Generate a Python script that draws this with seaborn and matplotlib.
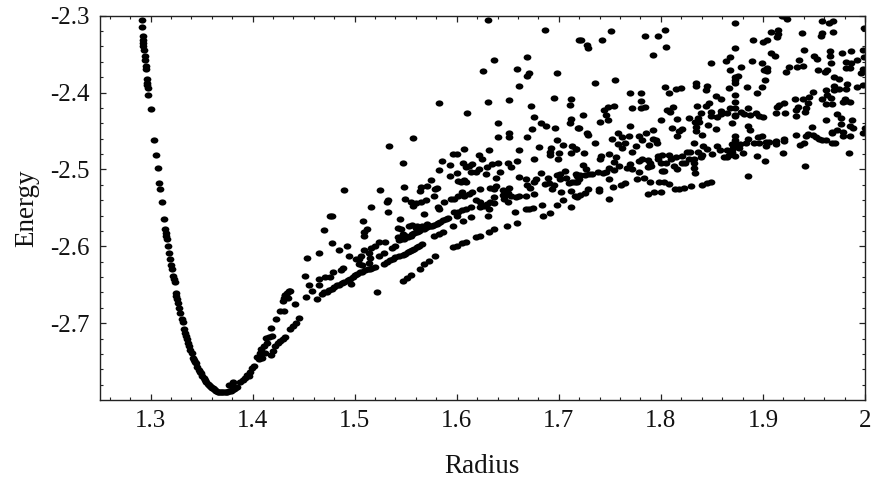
import pandas as pd
import matplotlib.pyplot as plt
import seaborn as sns
from matplotlib.markers import MarkerStyle
from matplotlib.ticker import FixedLocator, FixedFormatter
from matplotlib.transforms import Affine2D

# values, (radius, energy)
left_wall = [
    (1.2915,-2.306),(1.292,-2.315),(1.293,-2.326),(1.293,-2.331),(1.293,-2.335),(1.293,-2.339),(1.294,-2.344),
    (1.295,-2.353),(1.295,-2.358),(1.296,-2.366),(1.296,-2.369),(1.297,-2.382),(1.297,-2.387),(1.297,-2.390),
    (1.298,-2.394),(1.298,-2.403),(1.300,-2.421),(1.303,-2.462),(1.305,-2.481),(1.307,-2.498),(1.308,-2.518),
    (1.309,-2.526),(1.311,-2.543),(1.313,-2.564),(1.314,-2.578),(1.315,-2.583),(1.315,-2.586),(1.316,-2.590),
    (1.317,-2.599),(1.318,-2.609),(1.319,-2.617),(1.320,-2.624),(1.321,-2.629),(1.322,-2.639),(1.323,-2.643),
    (1.324,-2.647),(1.325,-2.661),(1.325,-2.665),(1.326,-2.669),(1.327,-2.674),(1.328,-2.680),(1.329,-2.687),
    (1.331,-2.694),(1.332,-2.698),(1.333,-2.707),(1.334,-2.713),(1.335,-2.717),(1.336,-2.721),(1.337,-2.726),
    (1.338,-2.730),(1.339,-2.735),(1.341,-2.739),(1.342,-2.745),(1.345,-2.752),(1.346,-2.757),(1.347,-2.761),
    (1.349,-2.765),(1.350,-2.769),(1.352,-2.772),(1.354,-2.776),(1.356,-2.779),(1.358,-2.782),(1.360,-2.784),
    (1.362,-2.786),(1.364,-2.788),(1.367,-2.790),(1.370,-2.790),(1.372,-2.790),(1.375,-2.790),(1.377,-2.788),
    (1.380,-2.787),(1.383,-2.785),(1.385,-2.783),(1.343,-2.748),(1.344,-2.750),(1.348,-2.763),(1.353,-2.774),
    (1.357,-2.781),(1.359,-2.783),(1.361,-2.785),(1.363,-2.787),(1.366,-2.789),(1.369,-2.790),(1.374,-2.790),
    (1.379,-2.788),(1.382,-2.786),
]
rising_arm = [
    (1.377,-2.780),(1.381,-2.777),(1.381,-2.782),(1.388,-2.777),(1.391,-2.774),(1.393,-2.771),(1.395,-2.768),
    (1.397,-2.764),(1.399,-2.759),(1.401,-2.756),(1.404,-2.744),(1.407,-2.739),(1.408,-2.734),(1.411,-2.730),
    (1.413,-2.719),(1.416,-2.718),(1.418,-2.706),(1.419,-2.717),(1.418,-2.741),(1.420,-2.736),(1.422,-2.730),
    (1.425,-2.726),(1.427,-2.723),(1.430,-2.721),(1.432,-2.718),(1.423,-2.694),(1.427,-2.684),(1.431,-2.684),
    (1.430,-2.671),(1.431,-2.667),(1.432,-2.663),(1.434,-2.661),(1.437,-2.658),(1.442,-2.675),(1.437,-2.708),
    (1.440,-2.704),(1.443,-2.700),(1.445,-2.693),(1.406,-2.747),(1.409,-2.745),(1.412,-2.739),(1.414,-2.726),
    (1.396,-2.769),
]
middle_band = [
    (1.631,-2.305),(1.686,-2.319),(1.720,-2.332),(1.669,-2.354),(1.637,-2.358),(1.626,-2.372),(1.659,-2.369),
    (1.698,-2.375),(1.671,-2.374),(1.669,-2.378),(1.661,-2.391),(1.583,-2.414),(1.631,-2.412),(1.651,-2.410),
    (1.695,-2.407),(1.712,-2.409),(1.711,-2.416),(1.673,-2.418),(1.610,-2.427),(1.676,-2.432),(1.712,-2.435),
    (1.711,-2.439),(1.683,-2.439),(1.687,-2.443),(1.640,-2.440),(1.696,-2.446),(1.719,-2.446),(1.674,-2.448),
    (1.651,-2.453),(1.651,-2.458),(1.640,-2.458),(1.669,-2.458),(1.557,-2.459),(1.698,-2.462),(1.534,-2.469),
    (1.704,-2.468),(1.713,-2.470),(1.681,-2.471),(1.692,-2.472),(1.717,-2.474),(1.607,-2.474),(1.632,-2.475),
    (1.661,-2.475),(1.712,-2.478),(1.691,-2.477),(1.691,-2.481),(1.700,-2.479),(1.596,-2.480),(1.600,-2.480),
    (1.622,-2.481),(1.699,-2.487),(1.676,-2.487),(1.625,-2.487),(1.586,-2.489),(1.547,-2.491),(1.659,-2.489),
    (1.640,-2.491),(1.650,-2.492),(1.635,-2.493),(1.606,-2.492),(1.615,-2.493),(1.593,-2.494),(1.612,-2.496),
    (1.609,-2.497),(1.653,-2.497),(1.630,-2.497),(1.583,-2.501),(1.622,-2.500),(1.619,-2.503),(1.614,-2.504),
    (1.642,-2.503),(1.600,-2.505),(1.629,-2.506),(1.706,-2.502),(1.683,-2.505),(1.698,-2.507),(1.701,-2.506),
    (1.717,-2.506),(1.593,-2.508),(1.661,-2.510),(1.638,-2.511),(1.668,-2.512),(1.707,-2.511),(1.689,-2.511),
    (1.678,-2.513),(1.676,-2.517),(1.575,-2.514),(1.601,-2.515),(1.604,-2.516),(1.607,-2.514),(1.609,-2.517),
    (1.701,-2.513),(1.713,-2.516),(1.710,-2.518),(1.718,-2.516),(1.686,-2.519),(1.690,-2.518),(1.695,-2.520),
    (1.669,-2.520),(1.672,-2.524),(1.571,-2.521),(1.565,-2.523),(1.548,-2.523),(1.638,-2.522),(1.633,-2.524),
    (1.637,-2.525),(1.623,-2.525),(1.651,-2.524),(1.581,-2.524),(1.579,-2.526),(1.490,-2.527),(1.525,-2.527),
    (1.564,-2.528),(1.645,-2.527),(1.650,-2.531),(1.653,-2.534),(1.693,-2.526),(1.702,-2.529),(1.712,-2.528),
    (1.605,-2.529),(1.615,-2.530),(1.612,-2.532),(1.676,-2.532),(1.668,-2.535),(1.661,-2.535),(1.658,-2.536),
    (1.718,-2.536),(1.578,-2.534),(1.601,-2.535),(1.597,-2.538),(1.594,-2.539),(1.607,-2.534),(1.549,-2.539),
    (1.533,-2.540),(1.532,-2.543),(1.570,-2.540),(1.565,-2.543),(1.560,-2.544),(1.555,-2.543),(1.557,-2.548),
    (1.588,-2.543),(1.619,-2.540),(1.623,-2.542),(1.637,-2.536),(1.646,-2.535),(1.646,-2.539),(1.650,-2.542),
    (1.645,-2.533),(1.633,-2.542),(1.630,-2.545),(1.637,-2.544),(1.704,-2.540),(1.698,-2.546),(1.684,-2.546),
    (1.516,-2.549),(1.582,-2.549),(1.583,-2.552),(1.712,-2.549),(1.623,-2.549),(1.632,-2.551),(1.627,-2.548),
    (1.614,-2.549),(1.609,-2.552),(1.605,-2.553),(1.601,-2.555),(1.597,-2.555),(1.675,-2.550),(1.671,-2.552),
    (1.668,-2.552),(1.533,-2.555),(1.657,-2.555),(1.691,-2.557),(1.685,-2.560),(1.568,-2.558),(1.476,-2.560),
    (1.478,-2.560),(1.631,-2.560),(1.614,-2.562),(1.600,-2.560),(1.544,-2.564),(1.591,-2.563),(1.587,-2.566),
    (1.584,-2.569),(1.581,-2.571),(1.578,-2.572),(1.574,-2.574),(1.571,-2.575),(1.568,-2.578),(1.565,-2.578),
    (1.561,-2.581),(1.558,-2.583),(1.555,-2.586),(1.552,-2.588),(1.548,-2.591),(1.543,-2.592),(1.540,-2.600),
    (1.537,-2.602),(1.606,-2.567),(1.508,-2.567),(1.659,-2.570),(1.649,-2.574),(1.637,-2.578),(1.632,-2.581),
    (1.553,-2.573),(1.556,-2.572),(1.561,-2.574),(1.566,-2.573),(1.571,-2.571),(1.542,-2.576),(1.545,-2.578),
    (1.596,-2.574),(1.512,-2.577),(1.509,-2.581),(1.509,-2.586),(1.470,-2.579),(1.587,-2.581),(1.583,-2.584),
    (1.578,-2.587),(1.623,-2.586),(1.619,-2.588),(1.609,-2.594),(1.605,-2.596),(1.600,-2.599),(1.596,-2.601),
    (1.478,-2.596),(1.492,-2.599),(1.485,-2.605),(1.524,-2.594),(1.530,-2.595),(1.520,-2.599),(1.516,-2.602),
    (1.509,-2.605),(1.566,-2.597),(1.561,-2.601),(1.556,-2.605),(1.552,-2.608),(1.547,-2.611),(1.540,-2.614),
    (1.535,-2.618),(1.529,-2.623),(1.465,-2.609),(1.494,-2.612),(1.506,-2.613),(1.501,-2.617),(1.529,-2.609),
    (1.524,-2.612),(1.514,-2.609),(1.515,-2.615),(1.453,-2.615),(1.579,-2.612),(1.573,-2.619),(1.568,-2.623),
    (1.564,-2.629),(1.504,-2.623),(1.507,-2.624),(1.489,-2.628),(1.487,-2.631),(1.479,-2.633),(1.517,-2.628),
    (1.513,-2.630),(1.507,-2.633),(1.502,-2.636),(1.498,-2.640),(1.493,-2.644),(1.488,-2.648),(1.483,-2.651),
    (1.478,-2.655),(1.473,-2.659),(1.468,-2.662),(1.451,-2.639),(1.555,-2.638),(1.551,-2.641),(1.547,-2.645),
    (1.476,-2.640),(1.471,-2.640),(1.465,-2.643),(1.455,-2.650),(1.465,-2.650),(1.496,-2.649),(1.458,-2.658),
    (1.436,-2.658),(1.432,-2.663),(1.435,-2.667),(1.522,-2.660),(1.452,-2.666),(1.463,-2.668),(1.542,-2.588),
    (1.547,-2.584),(1.560,-2.576),(1.504,-2.617),(1.514,-2.622),
]
chain_points = [
    (1.470,-2.660),(1.475,-2.657),(1.480,-2.653),(1.485,-2.650),(1.490,-2.646),(1.495,-2.642),(1.500,-2.638),
    (1.505,-2.634),(1.510,-2.631),(1.515,-2.629),(1.520,-2.627),(1.545,-2.590),(1.550,-2.587),(1.556,-2.584),
    (1.563,-2.580),(1.569,-2.576),(1.576,-2.573),(1.582,-2.570),(1.589,-2.565),(1.532,-2.620),(1.538,-2.616),
    (1.543,-2.613),(1.549,-2.610),(1.554,-2.606),(1.558,-2.603),(1.563,-2.599),
]
right_band = [
    (1.919,-2.301),(1.924,-2.304),(1.873,-2.309),(1.958,-2.307),(1.965,-2.309),(1.969,-2.307),(1.999,-2.316),
    (1.751,-2.320),(1.804,-2.319),(1.797,-2.326),(1.784,-2.327),(1.908,-2.321),(1.915,-2.319),(1.915,-2.324),
    (1.914,-2.328),(1.938,-2.322),(1.958,-2.323),(1.957,-2.327),(1.969,-2.321),(1.722,-2.332),(1.742,-2.332),
    (1.890,-2.331),(1.904,-2.332),(1.900,-2.334),(1.728,-2.338),(1.729,-2.342),(1.805,-2.341),(1.873,-2.342),
    (1.940,-2.345),(1.792,-2.351),(1.966,-2.346),(1.966,-2.352),(1.977,-2.348),(1.986,-2.346),(1.998,-2.345),
    (1.908,-2.349),(1.912,-2.353),(1.950,-2.352),(1.953,-2.356),(1.868,-2.354),(1.864,-2.359),(1.935,-2.357),
    (1.999,-2.354),(1.889,-2.359),(1.899,-2.361),(1.849,-2.362),(1.967,-2.361),(1.981,-2.360),(1.986,-2.362),
    (1.992,-2.358),(1.926,-2.367),(1.933,-2.367),(1.939,-2.366),(1.879,-2.367),(1.981,-2.368),(1.985,-2.368),
    (1.868,-2.370),(1.904,-2.368),(1.901,-2.371),(1.904,-2.372),(1.923,-2.373),(1.954,-2.371),(1.963,-2.371),
    (1.961,-2.373),(1.998,-2.369),(1.996,-2.374),(1.876,-2.378),(1.873,-2.380),(1.873,-2.384),(1.873,-2.388),
    (1.970,-2.380),(1.975,-2.382),(1.755,-2.384),(1.902,-2.384),(1.735,-2.388),(1.834,-2.388),(1.834,-2.392),
    (1.982,-2.389),(1.998,-2.390),(1.992,-2.393),(1.804,-2.393),(1.845,-2.391),(1.844,-2.397),(1.884,-2.393),
    (1.899,-2.393),(1.820,-2.394),(1.815,-2.396),(1.867,-2.394),(1.970,-2.392),(1.975,-2.395),(1.981,-2.395),
    (1.970,-2.397),(1.962,-2.397),(1.949,-2.399),(1.770,-2.400),(1.781,-2.400),(1.808,-2.401),(1.894,-2.401),
    (1.873,-2.403),(1.854,-2.405),(1.859,-2.408),(1.963,-2.403),(1.967,-2.407),(1.945,-2.406),(1.939,-2.409),
    (1.931,-2.408),(1.958,-2.408),(1.980,-2.408),(1.981,-2.411),(1.985,-2.412),(1.978,-2.412),(1.781,-2.411),
    (1.873,-2.412),(1.921,-2.413),(1.916,-2.416),(1.914,-2.419),(1.944,-2.413),(1.847,-2.414),(1.844,-2.417),
    (1.754,-2.417),(1.748,-2.419),(1.744,-2.423),(1.962,-2.415),(1.968,-2.415),(1.835,-2.417),(1.784,-2.419),
    (1.781,-2.420),(1.772,-2.420),(1.934,-2.419),(1.932,-2.423),(1.942,-2.420),(1.941,-2.425),(1.812,-2.419),
    (1.806,-2.423),(1.809,-2.425),(1.868,-2.420),(1.873,-2.420),(1.865,-2.426),(1.885,-2.420),(1.859,-2.424),
    (1.849,-2.425),(1.839,-2.426),(1.879,-2.425),(1.881,-2.428),(1.913,-2.426),(1.922,-2.427),(1.849,-2.430),
    (1.855,-2.432),(1.859,-2.428),(1.724,-2.429),(1.746,-2.429),(1.873,-2.429),(1.873,-2.431),(1.887,-2.429),
    (1.893,-2.427),(1.896,-2.431),(1.900,-2.432),(1.932,-2.431),(1.973,-2.428),(1.976,-2.433),(1.828,-2.433),
    (1.836,-2.433),(1.833,-2.438),(1.837,-2.438),(1.748,-2.436),(1.740,-2.438),(1.816,-2.434),(1.800,-2.436),
    (1.962,-2.436),(1.987,-2.436),(1.870,-2.440),(1.976,-2.441),(1.846,-2.442),(1.885,-2.443),(1.948,-2.445),
    (1.985,-2.444),(1.988,-2.446),(1.770,-2.444),(1.720,-2.446),(1.811,-2.446),(1.821,-2.447),(1.818,-2.450),
    (1.834,-2.445),(1.834,-2.450),(1.854,-2.448),(1.887,-2.449),(1.792,-2.449),(1.785,-2.452),(1.968,-2.451),
    (1.973,-2.449),(1.978,-2.451),(1.968,-2.453),(2.000,-2.446),(1.998,-2.453),(1.728,-2.452),(1.729,-2.455),
    (1.758,-2.452),(1.932,-2.455),(1.944,-2.454),(1.942,-2.457),(1.949,-2.455),(1.952,-2.458),(1.955,-2.461),
    (1.958,-2.462),(1.962,-2.462),(1.985,-2.456),(1.978,-2.456),(1.769,-2.456),(1.762,-2.458),(1.752,-2.460),
    (1.779,-2.456),(1.782,-2.462),(1.816,-2.456),(1.840,-2.455),(1.899,-2.456),(1.895,-2.458),(1.873,-2.457),
    (1.873,-2.462),(1.885,-2.461),(1.921,-2.461),(1.921,-2.463),(1.792,-2.461),(1.796,-2.465),(1.795,-2.462),
    (1.735,-2.465),(1.758,-2.467),(1.765,-2.466),(1.762,-2.472),(1.788,-2.468),(1.776,-2.469),(1.832,-2.466),
    (1.971,-2.466),(1.968,-2.466),(1.940,-2.466),(1.936,-2.468),(1.891,-2.465),(1.896,-2.466),(1.903,-2.464),
    (1.906,-2.464),(1.903,-2.469),(1.913,-2.463),(1.913,-2.467),(1.870,-2.467),(1.873,-2.468),(1.878,-2.467),
    (1.883,-2.465),(1.871,-2.472),(1.877,-2.472),(1.841,-2.469),(1.845,-2.473),(1.855,-2.469),(1.858,-2.475),
    (1.717,-2.474),(1.725,-2.478),(1.772,-2.477),(1.749,-2.480),(1.741,-2.482),(1.740,-2.487),(1.756,-2.484),
    (1.920,-2.478),(1.984,-2.478),(1.826,-2.477),(1.829,-2.477),(1.836,-2.477),(1.840,-2.481),(1.850,-2.480),
    (1.865,-2.475),(1.870,-2.477),(1.867,-2.481),(1.862,-2.484),(1.865,-2.484),(1.873,-2.482),(1.880,-2.478),
    (1.894,-2.483),(1.902,-2.489),(1.797,-2.482),(1.801,-2.481),(1.808,-2.481),(1.797,-2.487),(1.821,-2.482),
    (1.815,-2.484),(1.810,-2.487),(1.828,-2.487),(1.782,-2.487),(1.779,-2.489),(1.787,-2.488),(1.789,-2.492),
    (1.832,-2.487),(1.839,-2.484),(1.832,-2.492),(1.754,-2.490),(1.759,-2.495),(1.724,-2.494),(1.941,-2.495),
    (1.770,-2.493),(1.767,-2.498),(1.772,-2.500),(1.779,-2.503),(1.800,-2.492),(1.805,-2.492),(1.790,-2.496),
    (1.787,-2.497),(1.821,-2.491),(1.813,-2.496),(1.816,-2.500),(1.824,-2.491),(1.832,-2.498),(1.803,-2.502),
    (1.801,-2.502),(1.749,-2.498),(1.754,-2.501),(1.746,-2.504),(1.727,-2.500),(1.738,-2.504),(1.743,-2.505),
    (1.733,-2.506),(1.726,-2.507),(1.721,-2.507),(1.718,-2.509),(1.730,-2.506),(1.833,-2.505),(1.885,-2.508),
    (1.716,-2.516),(1.749,-2.512),(1.720,-2.513),(1.783,-2.511),(1.777,-2.513),(1.789,-2.517),(1.765,-2.518),
    (1.761,-2.520),(1.753,-2.523),(1.798,-2.517),(1.803,-2.517),(1.808,-2.519),(1.849,-2.517),(1.845,-2.518),
    (1.840,-2.520),(1.830,-2.522),(1.823,-2.524),(1.818,-2.525),(1.814,-2.526),(1.729,-2.526),(1.739,-2.526),
    (1.739,-2.528),(1.800,-2.529),(1.793,-2.530),(1.787,-2.532),(1.726,-2.531),(1.721,-2.533),(1.716,-2.535),
    (1.749,-2.538),
]

x_ticks = [1.3, 1.4, 1.5, 1.6, 1.7, 1.8, 1.9, 2.0]
x_labels = ['1.3', '1.4', '1.5', '1.6', '1.7', '1.8', '1.9', '2']
y_ticks = [-2.3, -2.4, -2.5, -2.6, -2.7]
y_labels = ['-2.3', '-2.4', '-2.5', '-2.6', '-2.7']
x_minor = [1.26, 1.28, 1.32, 1.34, 1.36, 1.38, 1.42, 1.44, 1.46, 1.48, 1.52, 1.54, 1.56, 1.58,
           1.62, 1.64, 1.66, 1.68, 1.72, 1.74, 1.76, 1.78, 1.82, 1.84, 1.86, 1.88, 1.92, 1.94, 1.96, 1.98]
y_minor = [-2.32, -2.34, -2.36, -2.38, -2.42, -2.44, -2.46, -2.48, -2.52, -2.54, -2.56, -2.58,
           -2.62, -2.64, -2.66, -2.68, -2.72, -2.74, -2.76, -2.78]

sns.set_theme(style='white')
plt.rcParams['font.family'] = ['Liberation Serif', 'DejaVu Serif']

df = pd.DataFrame(left_wall + rising_arm + middle_band + chain_points + right_band, columns=['Radius', 'Energy'])

fig = plt.figure(figsize=(8.75, 4.84), dpi=100)
ax = fig.add_axes([99.5 / 875, 1 - 400 / 484, (865 - 99.5) / 875, (400 - 15.7) / 484])

dot = MarkerStyle('o', transform=Affine2D().scale(1.25, 1))
sns.scatterplot(data=df, x='Radius', y='Energy', color='black', s=20, marker=dot, linewidth=0, ax=ax)

ax.set_xlim(1.25, 2)
ax.set_ylim(-2.8, -2.3)
ax.xaxis.set_major_locator(FixedLocator(x_ticks))
ax.xaxis.set_major_formatter(FixedFormatter(x_labels))
ax.yaxis.set_major_locator(FixedLocator(y_ticks))
ax.yaxis.set_major_formatter(FixedFormatter(y_labels))
ax.xaxis.set_minor_locator(FixedLocator(x_minor))
ax.yaxis.set_minor_locator(FixedLocator(y_minor))
ax.tick_params(which='both', direction='in', top=True, right=True, bottom=True, left=True, color='#222222')
ax.tick_params(which='major', length=4, width=0.9, labelsize=18, labelcolor='#111111')
ax.tick_params(axis='x', which='major', pad=7)
ax.tick_params(axis='y', which='major', pad=7)
ax.tick_params(which='minor', length=2, width=0.8)
for s in ax.spines.values():
    s.set_linewidth(1.0)
    s.set_color('#222222')

ax.set_xlabel('Radius', fontsize=19.5, color='#111111', labelpad=16)
ax.set_ylabel('Energy', fontsize=19.5, color='#111111', labelpad=8)

fig.savefig('out.png', dpi=100)
